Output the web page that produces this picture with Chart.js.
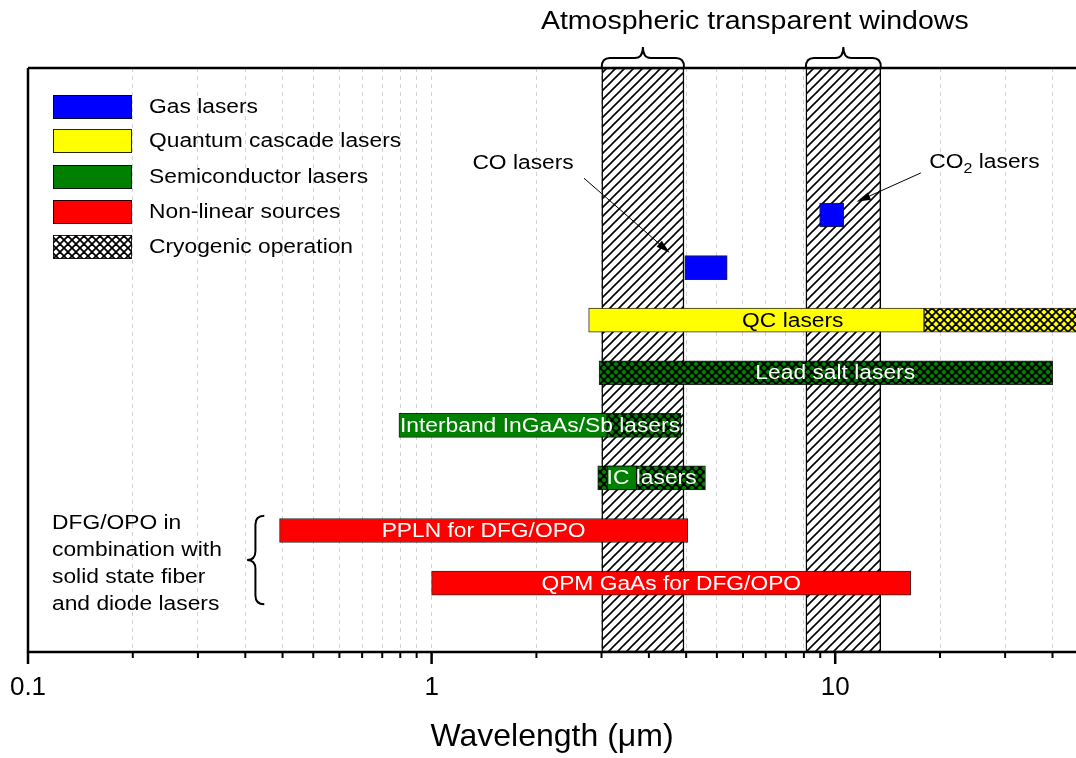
<!DOCTYPE html>
<html lang="en">
<head>
<meta charset="utf-8">
<title>Mid-infrared laser sources</title>
<script src="https://cdn.jsdelivr.net/npm/chart.js@4.4.1/dist/chart.umd.min.js"></script>
<style>
html, body { margin: 0; padding: 0; background: #fff; }
canvas { display: block; }
</style>
</head>
<body>
<canvas id="chart" width="1076" height="758"></canvas>
<script>
// Rows of the chart, top to bottom
const rowNames = ['CO2 lasers', 'CO lasers', 'QC lasers', 'Lead salt lasers',
  'Interband InGaAs/Sb lasers', 'IC lasers', 'PPLN for DFG/OPO', 'QPM GaAs for DFG/OPO'];

// Wavelength ranges in µm, one entry per row (null = nothing on that row)
const gasLasers  = [[9.15, 10.5], [4.24, 5.4], null, null, null, null, null, null];
const qcLasers   = [null, null, [2.45, 16.6], null, null, null, null, null];
const qcCryo     = [null, null, [16.6, 60], null, null, null, null, null];
const semiLasers = [null, null, null, null, [0.83, 2.72], [2.72, 3.22], null, null];
const semiCryo   = [null, null, null, [2.6, 34.6], [2.72, 4.15], [2.58, 4.77], null, null];
const nonLinear  = [null, null, null, null, null, null, [0.42, 4.31], [1.0, 15.4]];

// Atmospheric transparency windows, µm
const windowBands = [[2.64, 4.22], [8.46, 12.97]];

// Axis
const majorTicks = [0.1, 1, 10];
const tickLabels = ['0.1', '1', '10'];
const axisMin = 0.1, axisMax = 39.5;

const legendNames = ['Gas lasers', 'Quantum cascade lasers', 'Semiconductor lasers',
  'Non-linear sources', 'Cryogenic operation'];

// ---------------------------------------------------------------------------
const FONT = '"Liberation Sans", Arial, Helvetica, sans-serif';
const SX = 1.14; // slightly wide lettering for the hand-placed captions
const BLUE = '#0000ff', YELLOW = '#ffff00', GREEN = '#008000', RED = '#ff0000';

Chart.defaults.font.family = FONT;
Chart.defaults.color = '#000';

const canvas = document.getElementById('chart');
const ctx0 = canvas.getContext('2d');

// Fill patterns: "/" hatching and diagonal cross-hatching
function makePattern(bg, size, lw, cross) {
  const c = document.createElement('canvas');
  c.width = c.height = size;
  const g = c.getContext('2d');
  g.fillStyle = bg;
  g.fillRect(0, 0, size, size);
  g.strokeStyle = '#000';
  g.lineWidth = lw;
  g.beginPath();
  g.moveTo(0, size); g.lineTo(size, 0);
  g.moveTo(-size / 2, size / 2); g.lineTo(size / 2, -size / 2);
  g.moveTo(size / 2, size * 1.5); g.lineTo(size * 1.5, size / 2);
  if (cross) {
    g.moveTo(0, 0); g.lineTo(size, size);
    g.moveTo(-size / 2, size / 2); g.lineTo(size / 2, size * 1.5);
    g.moveTo(size / 2, -size / 2); g.lineTo(size * 1.5, size / 2);
  }
  g.stroke();
  return ctx0.createPattern(c, 'repeat');
}
const hatchWindow = makePattern('#fff', 9, 1.6, false);
const crossYellow = makePattern(YELLOW, 8, 1.8, true);
const crossGreen  = makePattern(GREEN, 8, 1.8, true);
const crossWhite  = makePattern('#fff', 8, 1.8, true);

const toPoints = arr => arr.map((r, i) => r ? { x: r, y: i } : null).filter(Boolean);

function barSet(label, arr, fill, order) {
  return {
    label, data: toPoints(arr), backgroundColor: fill,
    borderColor: 'rgba(0,0,0,0.85)', borderWidth: 1, borderSkipped: false,
    barThickness: 24, grouped: false, order, yAxisID: 'y'
  };
}

// Captions written on the bars
const barCaptions = [
  { row: 2, text: 'QC lasers', color: '#000', at: 7.85 },
  { row: 3, text: 'Lead salt lasers', color: '#fff', at: 10 },
  { row: 4, text: 'Interband InGaAs/Sb lasers', color: '#fff' },
  { row: 5, text: 'IC lasers', color: '#fff' },
  { row: 6, text: 'PPLN for DFG/OPO', color: '#fff' },
  { row: 7, text: 'QPM GaAs for DFG/OPO', color: '#fff' }
];
const allSeries = [gasLasers, qcLasers, qcCryo, semiLasers, semiCryo, nonLinear];

function drawText(ctx, str, x, y, size, align, color) {
  ctx.save();
  ctx.font = size + 'px ' + FONT;
  ctx.fillStyle = color || '#000';
  ctx.textBaseline = 'middle';
  ctx.textAlign = 'left';
  const w = ctx.measureText(str).width * SX;
  const x0 = align === 'center' ? x - w / 2 : align === 'right' ? x - w : x;
  ctx.translate(x0, y);
  ctx.scale(SX, 1);
  ctx.fillText(str, 0, 0);
  ctx.restore();
  return w;
}

function drawArrow(ctx, x0, y0, x1, y1) {
  const ang = Math.atan2(y1 - y0, x1 - x0), L = 14, W = 4;
  ctx.save();
  ctx.strokeStyle = '#000'; ctx.fillStyle = '#000'; ctx.lineWidth = 1;
  ctx.beginPath(); ctx.moveTo(x0, y0);
  ctx.lineTo(x1 - Math.cos(ang) * L * 0.7, y1 - Math.sin(ang) * L * 0.7); ctx.stroke();
  ctx.beginPath();
  ctx.moveTo(x1, y1);
  ctx.lineTo(x1 - Math.cos(ang) * L + Math.sin(ang) * W, y1 - Math.sin(ang) * L - Math.cos(ang) * W);
  ctx.lineTo(x1 - Math.cos(ang) * L - Math.sin(ang) * W, y1 - Math.sin(ang) * L + Math.cos(ang) * W);
  ctx.closePath(); ctx.fill();
  ctx.restore();
}

// Curly brace lying flat, tip pointing up
function hBrace(ctx, x0, x1, yBase, yBar, yTip) {
  const mid = (x0 + x1) / 2, r = 8;
  ctx.beginPath();
  ctx.moveTo(x0, yBase);
  ctx.quadraticCurveTo(x0, yBar, x0 + r, yBar);
  ctx.lineTo(mid - r, yBar);
  ctx.quadraticCurveTo(mid, yBar, mid, yTip);
  ctx.quadraticCurveTo(mid, yBar, mid + r, yBar);
  ctx.lineTo(x1 - r, yBar);
  ctx.quadraticCurveTo(x1, yBar, x1, yBase);
  ctx.stroke();
}
// Curly brace standing upright, tip pointing left
function vBrace(ctx, y0, y1, xBase, xBar, xTip) {
  const mid = (y0 + y1) / 2, r = 9;
  ctx.beginPath();
  ctx.moveTo(xBase, y0);
  ctx.quadraticCurveTo(xBar, y0, xBar, y0 + r);
  ctx.lineTo(xBar, mid - r);
  ctx.quadraticCurveTo(xBar, mid, xTip, mid);
  ctx.quadraticCurveTo(xBar, mid, xBar, mid + r);
  ctx.lineTo(xBar, y1 - r);
  ctx.quadraticCurveTo(xBar, y1, xBase, y1);
  ctx.stroke();
}

const isMajor = v => majorTicks.some(m => Math.abs(m - v) < 1e-9);

const decorations = {
  id: 'decorations',
  afterDatasetsDraw(chart) {
    const { ctx, chartArea: a, scales: { x, y } } = chart;
    const X = v => x.getPixelForValue(v);
    const Y = v => y.getPixelForValue(v);

    // captions on the bars
    ctx.save();
    ctx.beginPath(); ctx.rect(a.left, a.top, a.right - a.left, a.bottom - a.top); ctx.clip();
    barCaptions.forEach(c => {
      const segs = allSeries.map(s => s[c.row]).filter(Boolean);
      const lo = Math.max(a.left, X(Math.min(...segs.map(s => s[0]))));
      const hi = Math.min(a.right, X(Math.max(...segs.map(s => s[1]))));
      const cx = c.at ? X(c.at) : (lo + hi) / 2;
      drawText(ctx, c.text, cx, Y(c.row) + 1, 20, 'center', c.color);
    });
    ctx.restore();

    // CO and CO2 call-outs
    drawText(ctx, 'CO lasers', X(1.685), Y(-0.97), 20, 'center');
    drawArrow(ctx, X(2.385), Y(-0.70), X(3.89), Y(0.72));
    let cx = X(17.1), cy = Y(-0.99);
    cx += drawText(ctx, 'CO', cx, cy, 20, 'left');
    drawText(ctx, '2', cx, cy + 6, 14, 'left');
    cx += 9;
    drawText(ctx, ' lasers', cx, cy, 20, 'left');
    drawArrow(ctx, X(16.3), Y(-0.80), X(11.3), Y(-0.25));

    // DFG/OPO note with its brace
    const noteLines = ['DFG/OPO in', 'combination with', 'solid state fiber', 'and diode lasers'];
    noteLines.forEach((t, i) => drawText(ctx, t, a.left + 24, Y(5.86 + i * 0.513), 20, 'left'));
    ctx.save();
    ctx.strokeStyle = '#000'; ctx.lineWidth = 2;
    vBrace(ctx, Y(5.72), Y(7.40), X(0.385), X(0.366), X(0.349));
    ctx.restore();

    // legend
    const lx = a.left + 25, lw = 79, lh = 24;
    const fills = [BLUE, YELLOW, GREEN, RED, crossWhite];
    const centers = [107, 141, 177, 212, 247];
    legendNames.forEach((name, i) => {
      const top = centers[i] - lh / 2;
      ctx.save();
      ctx.fillStyle = fills[i];
      ctx.fillRect(lx, top, lw, lh);
      ctx.strokeStyle = 'rgba(0,0,0,0.85)'; ctx.lineWidth = 1;
      ctx.strokeRect(lx + 0.5, top + 0.5, lw - 1, lh - 1);
      ctx.restore();
      drawText(ctx, name, lx + lw + 17, centers[i], 20, 'left');
    });

    // frame: top and left border, bottom axis line
    ctx.save();
    ctx.strokeStyle = '#000';
    ctx.lineWidth = 2.5;
    ctx.beginPath();
    ctx.moveTo(a.left, a.top); ctx.lineTo(a.right, a.top);
    ctx.moveTo(a.left, a.top); ctx.lineTo(a.left, a.bottom + 1);
    ctx.moveTo(a.left - 1, a.bottom); ctx.lineTo(a.right, a.bottom);
    ctx.stroke();
    // tick marks
    x.ticks.forEach(t => {
      const px = X(t.value);
      const major = isMajor(t.value);
      ctx.lineWidth = major ? 2.5 : 2;
      ctx.beginPath();
      ctx.moveTo(px, a.bottom);
      ctx.lineTo(px, a.bottom + (major ? 12 : 6));
      ctx.stroke();
    });
    // braces above the transparency windows and their heading
    ctx.lineWidth = 2;
    windowBands.forEach(([lo, hi]) => hBrace(ctx, X(lo), X(hi), a.top - 1, a.top - 10, a.top - 21));
    ctx.restore();
    drawText(ctx, 'Atmospheric transparent windows', X(6.32), 22, 25, 'center');
  }
};

// Minor ticks: each decade split into 11 equal steps
const allTicks = [];
majorTicks.forEach(d => {
  allTicks.push(d);
  for (let k = 1; k <= 10; k++) {
    const v = d + k * (9 * d / 11);
    if (v < axisMax) allTicks.push(v);
  }
});

new Chart(canvas, {
  type: 'bar',
  data: {
    datasets: [
      {
        label: 'Atmospheric transparent windows',
        data: windowBands.map(r => ({ x: r, y: 'band' })),
        backgroundColor: hatchWindow, borderColor: '#000', borderWidth: 1.5,
        borderSkipped: false, barPercentage: 1, categoryPercentage: 1,
        grouped: false, order: 10, yAxisID: 'yw'
      },
      barSet('Gas lasers', gasLasers, BLUE, 1),
      barSet('Quantum cascade lasers', qcLasers, YELLOW, 1),
      barSet('Quantum cascade lasers (cryogenic)', qcCryo, crossYellow, 1),
      barSet('Semiconductor lasers (cryogenic)', semiCryo, crossGreen, 2),
      barSet('Semiconductor lasers', semiLasers, GREEN, 1),
      barSet('Non-linear sources', nonLinear, RED, 1)
    ]
  },
  options: {
    indexAxis: 'y',
    responsive: false,
    animation: false,
    events: [],
    layout: { padding: { left: 28, top: 68, right: 0, bottom: 0 } },
    plugins: { legend: { display: false }, tooltip: { enabled: false } },
    scales: {
      x: {
        type: 'logarithmic',
        position: 'bottom',
        min: axisMin,
        max: axisMax,
        afterBuildTicks: s => { s.ticks = allTicks.map(v => ({ value: v, major: isMajor(v) })); },
        afterFit: s => { s.height = 106; s.paddingLeft = 0; s.paddingRight = 0; },
        ticks: {
          autoSkip: false, maxRotation: 0, padding: 20, color: '#000',
          font: { size: 26 },
          callback: v => {
            const i = majorTicks.findIndex(m => Math.abs(m - v) < 1e-9);
            return i >= 0 ? tickLabels[i] : '';
          }
        },
        grid: { color: '#d2d2d2', lineWidth: 1, drawTicks: false },
        border: { display: false, dash: [4, 4] },
        title: {
          display: true, text: 'Wavelength (μm)', color: '#000',
          font: { size: 32 }, padding: { top: 0, bottom: 2 }
        }
      },
      y: { type: 'linear', min: -2.795, max: 8.31, reverse: true, offset: false, display: false },
      yw: { type: 'category', labels: ['band'], offset: true, display: false }
    }
  },
  plugins: [decorations]
});
</script>
</body>
</html>
